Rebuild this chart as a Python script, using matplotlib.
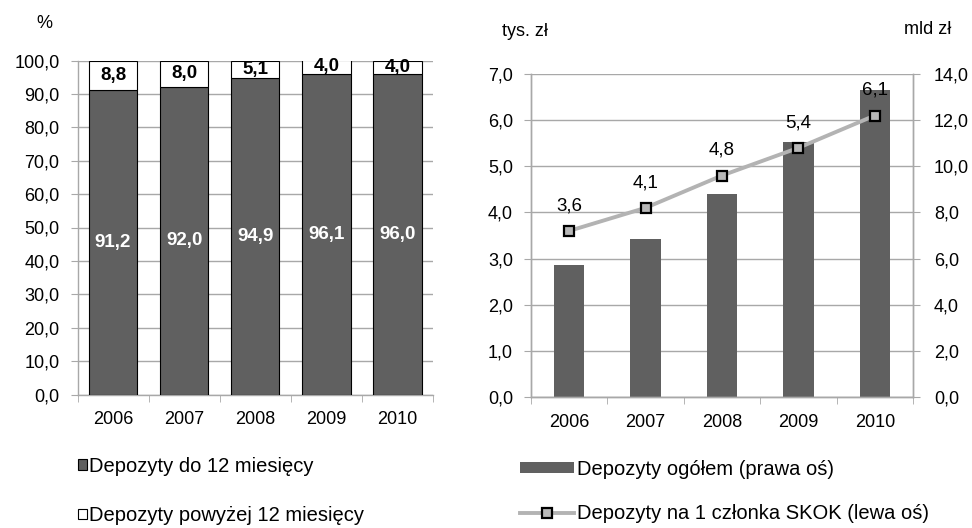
import matplotlib
matplotlib.use("Agg")
import matplotlib.pyplot as plt
from matplotlib.patches import Patch
from matplotlib.lines import Line2D
import numpy as np

plt.rcParams['font.family'] = ['Liberation Sans', 'DejaVu Sans']

years = ['2006', '2007', '2008', '2009', '2010']

# Left panel: deposit structure by maturity (%)
short_term = [91.2, 92.0, 94.9, 96.1, 96.0]
long_term = [8.8, 8.0, 5.1, 4.0, 4.0]

# Right panel
total_deposits_bn = [5.7, 6.85, 8.8, 11.05, 13.3]      # mld zł, right axis
per_member_thous = [3.6, 4.1, 4.8, 5.4, 6.1]           # tys. zł, left axis

BAR_DARK = '#606060'
GRID = '#a8a8a8'
LINE_GREY = '#b3b3b3'
FS = 13.0
FS_LBL = 13.5
FS_LEG = 14.5


def fmt(v):
    return f"{v:.1f}".replace('.', ',')


fig = plt.figure(figsize=(9.72, 5.28), dpi=100)
W, H = 972, 528


def axes_px(x0, x1, ytop, ybot):
    return fig.add_axes([x0 / W, 1 - ybot / H, (x1 - x0) / W, (ybot - ytop) / H])


# ---------------- Left panel ----------------
ax1 = axes_px(77.5, 433, 60.5, 394.5)
x = np.arange(len(years))
bw = 0.68
ax1.bar(x, short_term, bw, color=BAR_DARK, edgecolor='black', linewidth=0.8, zorder=3)
ax1.bar(x, long_term, bw, bottom=short_term, color='white', edgecolor='black',
        linewidth=0.8, zorder=3)
for xi, s, l in zip(x, short_term, long_term):
    ax1.text(xi, s / 2, fmt(s), ha='center', va='center', color='white',
             fontsize=FS_LBL, fontweight='bold', zorder=4)
    ax1.text(xi, s + l / 2, fmt(l), ha='center', va='center', color='black',
             fontsize=FS_LBL, fontweight='bold', zorder=4)

ax1.set_ylim(0, 100)
ax1.set_xlim(-0.5, 4.5 - (0.5 - bw / 2))
ax1.set_yticks(np.arange(0, 101, 10))
ax1.set_yticklabels([fmt(v) for v in np.arange(0, 101, 10)], fontsize=FS)
ax1.set_xticks(x)
ax1.set_xticklabels(years, fontsize=FS)
ax1.set_xticks(np.arange(-0.5, 4.6, 1), minor=True)
ax1.tick_params(axis='x', which='major', length=0, pad=12)
ax1.tick_params(axis='x', which='minor', length=5, color=GRID, direction='out')
ax1.tick_params(axis='y', length=5, color=GRID, pad=8)
ax1.yaxis.grid(True, color=GRID, linewidth=1.0, zorder=0)
ax1.set_axisbelow(True)
for s in ['top', 'right']:
    ax1.spines[s].set_visible(False)
for s in ['left', 'bottom']:
    ax1.spines[s].set_color(GRID)
    ax1.spines[s].set_linewidth(1.0)

fig.text(44 / W, 1 - 23 / H, '%', fontsize=FS, ha='center', va='center')

# ---------------- Right panel ----------------
axL = axes_px(531, 913, 74, 397)
axR = axL.twinx()
axR.bar(x, total_deposits_bn, 0.4, color=BAR_DARK, zorder=2)
axR.set_ylim(0, 14)
axR.set_yticks(np.arange(0, 14.1, 2))
axR.set_yticklabels([fmt(v) for v in np.arange(0, 14.1, 2)], fontsize=FS)
axR.tick_params(axis='y', length=5, color=GRID, pad=10)

axL.set_zorder(axR.get_zorder() + 1)
axL.patch.set_visible(False)
axL.plot(x, per_member_thous, color=LINE_GREY, linewidth=2.8, marker='s',
         markersize=7.5, markerfacecolor='#b8b8b8', markeredgecolor='black',
         markeredgewidth=1.6, zorder=5)
for xi, v in zip(x, per_member_thous):
    axL.annotate(fmt(v), (xi, v), xytext=(0, 12), textcoords='offset points',
                 ha='center', va='bottom', fontsize=FS_LBL)
axL.set_ylim(0, 7)
axL.set_xlim(-0.5, 4.5)
axL.set_yticks(np.arange(0, 7.1, 1))
axL.set_yticklabels([fmt(v) for v in np.arange(0, 7.1, 1)], fontsize=FS)
axL.set_xticks(x)
axL.set_xticklabels(years, fontsize=FS)
axL.set_xticks(np.arange(-0.5, 4.6, 1), minor=True)
axL.tick_params(axis='x', which='major', length=0, pad=12)
axL.tick_params(axis='x', which='minor', length=5, color=GRID, direction='out')
axL.tick_params(axis='y', length=5, color=GRID, pad=8)

# gridlines drawn on the bar axis so they sit beneath the bars
axR.yaxis.grid(True, color=GRID, linewidth=1.0, zorder=0)
axR.set_axisbelow(True)

for a in (axL, axR):
    a.spines['top'].set_visible(False)
    for s in ['left', 'right', 'bottom']:
        a.spines[s].set_color(GRID)
        a.spines[s].set_linewidth(1.0)

fig.text(525 / W, 1 - 31 / H, 'tys. zł', fontsize=FS, ha='center', va='center')
fig.text(928 / W, 1 - 30 / H, 'mld zł', fontsize=FS, ha='center', va='center')

# ---------------- Legends ----------------
left_handles = [
    Patch(facecolor=BAR_DARK, edgecolor='black', linewidth=0.8),
    Patch(facecolor='white', edgecolor='black', linewidth=0.8),
]
leg1 = fig.legend(left_handles, ['Depozyty do 12 miesięcy', 'Depozyty powyżej 12 miesięcy'],
                  loc='upper left', bbox_to_anchor=(78 / W, 1 - 457 / H),
                  frameon=False, fontsize=FS_LEG, handlelength=0.45, handleheight=0.45,
                  handletextpad=0.1, labelspacing=1.5, borderaxespad=0, borderpad=0)

right_handles = [
    Patch(facecolor=BAR_DARK, edgecolor='none'),
    Line2D([0], [0], color=LINE_GREY, linewidth=2.8, marker='s', markersize=7.5,
           markerfacecolor='#b8b8b8', markeredgecolor='black', markeredgewidth=1.6),
]
leg2 = fig.legend(right_handles, ['Depozyty ogółem (prawa oś)',
                                  'Depozyty na 1 członka SKOK (lewa oś)'],
                  loc='upper left', bbox_to_anchor=(520 / W, 1 - 460 / H),
                  frameon=False, fontsize=FS_LEG, handlelength=2.7, handleheight=0.45,
                  handletextpad=0.15, labelspacing=1.25, borderaxespad=0, borderpad=0)

fig.savefig('out.png', dpi=100)
